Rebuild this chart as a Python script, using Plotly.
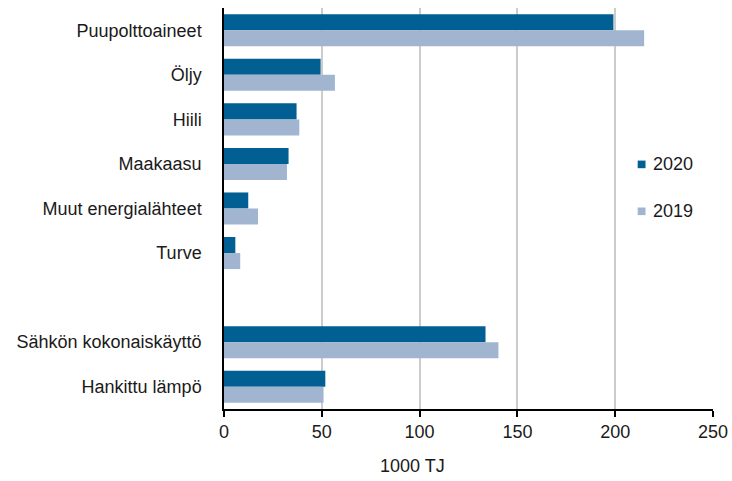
import plotly.graph_objects as go

# Energy use by source, 1000 TJ
categories = ["Puupolttoaineet", "Öljy", "Hiili", "Maakaasu", "Muut energialähteet",
              "Turve", " ", "Sähkön kokonaiskäyttö", "Hankittu lämpö"]
series_names = ["2020", "2019"]
values_2020 = [199.1, 49.4, 37.1, 33.0, 12.4, 5.8, None, 133.7, 51.8]
values_2019 = [214.8, 56.7, 38.5, 32.2, 17.4, 8.3, None, 140.3, 50.9]
x_ticks = [0, 50, 100, 150, 200, 250]

colors = {"2020": "#015f93", "2019": "#a1b5d1"}
font_family = "Liberation Sans, Arial, sans-serif"
text_color = "#1a1a1a"
font_size = 18

fig = go.Figure()
for name, vals in zip(series_names, [values_2020, values_2019]):
    fig.add_trace(go.Bar(
        y=categories, x=vals, orientation="h", name=name,
        marker=dict(color=colors[name], line=dict(width=0)),
        showlegend=False,
    ))

# Hand-placed legend: small square swatch followed by the series name
legend_shapes = []
legend_notes = []
legend_x0, legend_y0, legend_step = 0.846, 0.61, 0.117
for i, name in enumerate(series_names):
    yc = legend_y0 - i * legend_step
    legend_shapes.append(dict(
        type="rect", xref="paper", yref="paper",
        x0=legend_x0, x1=legend_x0 + 0.016, y0=yc - 0.0095, y1=yc + 0.0095,
        fillcolor=colors[name], line=dict(width=0),
    ))
    legend_notes.append(dict(
        text=name, xref="paper", yref="paper", x=legend_x0 + 0.027, y=yc,
        xanchor="left", yanchor="middle", showarrow=False,
        font=dict(size=font_size, color=text_color),
    ))

fig.update_layout(
    width=732, height=481,
    margin=dict(l=224, r=19, t=8, b=72, autoexpand=False),
    paper_bgcolor="white", plot_bgcolor="white",
    barmode="group", bargap=0.28, bargroupgap=0,
    font=dict(family=font_family, size=font_size, color=text_color),
    showlegend=False,
    xaxis=dict(
        range=[0, 250], tickvals=x_ticks, ticktext=[str(v) for v in x_ticks],
        showgrid=True, gridcolor="#cccccc", gridwidth=1.5,
        showline=True, linecolor="#000000", linewidth=1.5,
        ticks="outside", ticklen=6, tickcolor="#000000", tickwidth=1.5,
        zeroline=False, fixedrange=True,
        tickfont=dict(size=font_size, color=text_color),
    ),
    yaxis=dict(
        type="category", categoryorder="array", categoryarray=categories,
        autorange="reversed",
        showline=True, linecolor="#000000", linewidth=1.5,
        showgrid=False, ticks="", ticklabelstandoff=17,
        tickfont=dict(size=font_size, color=text_color),
    ),
    shapes=legend_shapes,
    annotations=legend_notes + [dict(
        text="1000 TJ", xref="paper", yref="paper", x=0.386, y=0,
        yshift=-57, xanchor="center", yanchor="middle", showarrow=False,
        font=dict(size=font_size, color=text_color),
    )],
)

fig.write_html("out.html")
